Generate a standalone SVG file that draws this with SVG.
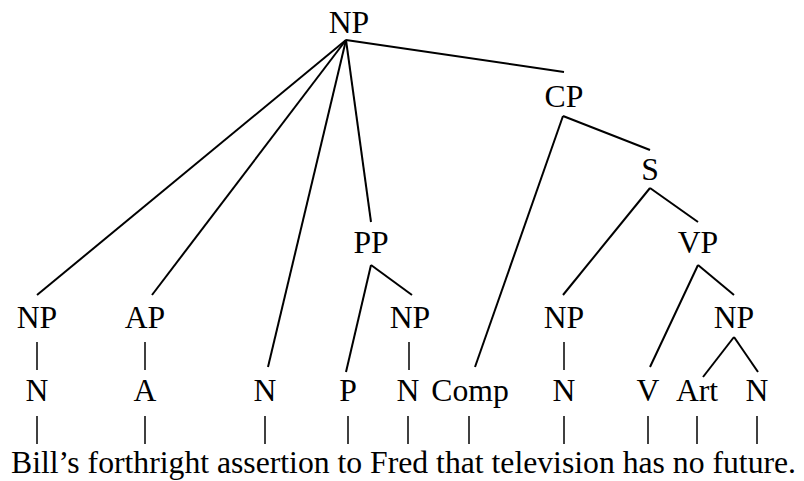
<svg xmlns="http://www.w3.org/2000/svg" width="804" height="481" viewBox="0 0 804 481">
<style>
text{font-family:"Liberation Serif","Times New Roman",serif;font-size:31.7px;fill:#000;text-anchor:middle}
.s{text-anchor:start}
.e line{stroke:#000;stroke-width:2;stroke-linecap:butt}
.e line.v{stroke-width:1.5}
</style>
<rect width="804" height="481" fill="#fff"/>
<g id="connectors" class="e">
<line x1="346" y1="40" x2="37" y2="295"/>
<line x1="346" y1="40" x2="152" y2="295"/>
<line x1="346" y1="40" x2="268" y2="367"/>
<line x1="346" y1="40" x2="371" y2="222"/>
<line x1="346" y1="40" x2="564" y2="72"/>
<line x1="563" y1="116" x2="650" y2="150"/>
<line x1="563" y1="116" x2="475" y2="367"/>
<line x1="650" y1="188" x2="563" y2="295"/>
<line x1="650" y1="188" x2="698" y2="222"/>
<line x1="698" y1="265" x2="650" y2="367"/>
<line x1="698" y1="265" x2="734" y2="295"/>
<line x1="734" y1="337" x2="703" y2="377"/>
<line x1="734" y1="337" x2="758" y2="372"/>
<line x1="371" y1="265" x2="346" y2="372"/>
<line x1="371" y1="265" x2="412" y2="295"/>
<line class="v" x1="37" y1="342" x2="37" y2="370"/>
<line class="v" x1="145" y1="342" x2="145" y2="370"/>
<line class="v" x1="409" y1="342" x2="409" y2="370"/>
<line class="v" x1="564" y1="342" x2="564" y2="370"/>
<line class="v" x1="37" y1="416" x2="37" y2="444"/>
<line class="v" x1="145" y1="416" x2="145" y2="444"/>
<line class="v" x1="265" y1="416" x2="265" y2="444"/>
<line class="v" x1="348" y1="416" x2="348" y2="444"/>
<line class="v" x1="408" y1="416" x2="408" y2="444"/>
<line class="v" x1="469" y1="416" x2="469" y2="444"/>
<line class="v" x1="564" y1="416" x2="564" y2="444"/>
<line class="v" x1="648" y1="416" x2="648" y2="444"/>
<line class="v" x1="697" y1="416" x2="697" y2="444"/>
<line class="v" x1="757" y1="416" x2="757" y2="444"/>
</g>
<g id="np-root"><text x="349" y="33">NP</text></g>
<g id="cp"><text x="564" y="107">CP</text></g>
<g id="s"><text x="650" y="180">S</text></g>
<g id="pp"><text x="371" y="253">PP</text></g>
<g id="vp"><text x="698" y="253">VP</text></g>
<g id="np1"><text x="37" y="328">NP</text></g>
<g id="ap"><text x="145" y="328">AP</text></g>
<g id="np2"><text x="410" y="328">NP</text></g>
<g id="np3"><text x="564" y="328">NP</text></g>
<g id="np4"><text x="734" y="328">NP</text></g>
<g id="n1"><text x="37" y="401">N</text></g>
<g id="a"><text x="145" y="401">A</text></g>
<g id="n2"><text x="265" y="401">N</text></g>
<g id="p"><text x="348" y="401">P</text></g>
<g id="n3"><text x="408" y="401">N</text></g>
<g id="comp"><text x="470" y="401">Comp</text></g>
<g id="n4"><text x="564" y="401">N</text></g>
<g id="v"><text x="648" y="401">V</text></g>
<g id="art"><text x="697" y="401">Art</text></g>
<g id="n5"><text x="757" y="401">N</text></g>
<g id="sentence"><text class="s" x="11" y="473">Bill’s forthright assertion to Fred that television has no future.</text></g>
</svg>
